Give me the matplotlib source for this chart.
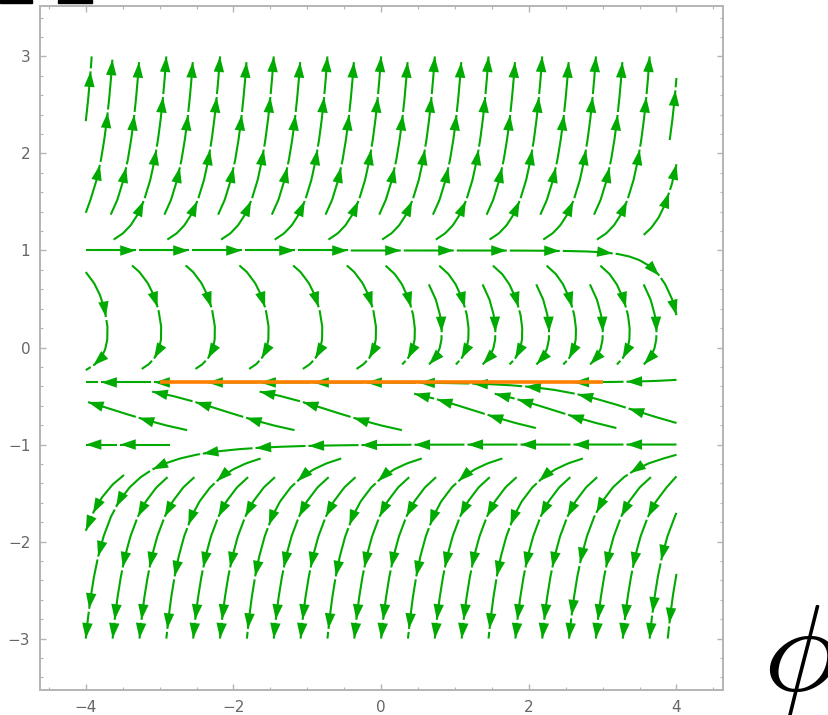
import numpy as np
import matplotlib
matplotlib.use("Agg")
import matplotlib.pyplot as plt
from matplotlib.patches import Rectangle, FancyArrowPatch
from matplotlib.ticker import MultipleLocator

plt.rcParams["mathtext.fontset"] = "cm"

# --------------------------
# Field parameters
# --------------------------
# horizontal invariant lines of the flow (dy/dt = 0)
y_fixed = [1.0, -0.36, -1.0]
# dx/dt changes sign at this height, grows linearly with y
x_null = 0.15
x_gain = 0.86
# plotted region of the streams
x_span = [-4.0, 4.0]
y_span = [-3.0, 3.0]
# highlighted trajectory (orange)
orange_x = [-3.0, 3.0]
orange_y = [-0.36, -0.36]

x_ticks = [-4, -2, 0, 2, 4]
y_ticks = [-3, -2, -1, 0, 1, 2, 3]

green = "#00aa00"
orange = "#ff8000"
frame_gray = "#b4b4b4"
label_gray = "#666666"

# stream pieces (pixels): each piece ends in an arrowhead, small gap after it
piece_len = 50
piece_gap = 3

# --------------------------
# Grid + vector field
# --------------------------
xs = np.linspace(x_span[0], x_span[1], 161)
ys = np.linspace(y_span[0], y_span[1], 301)
X, Y = np.meshgrid(xs, ys)
U = x_gain * (Y - x_null)
V = (Y - y_fixed[0]) * (Y - y_fixed[1]) * (Y - y_fixed[2])

# --------------------------
# Figure
# --------------------------
fig = plt.figure(figsize=(8.29, 7.15), dpi=100)
ax = fig.add_axes([40 / 829, 1 - 690 / 715, 683 / 829, 684 / 715])
ax.set_xlim(-4.62, 4.63)
ax.set_ylim(-3.53, 3.52)

res = ax.streamplot(X, Y, U, V, density=(0.78, 0.95), color=green, linewidth=1.5,
                    arrowstyle="-", zorder=2)
lines = res.lines.get_segments()
res.lines.remove()
for p in list(ax.patches):
    p.remove()

# redraw every streamline Mathematica-style: short pieces with heads
to_pix = ax.transData
to_data = ax.transData.inverted()
for seg in lines:
    if len(seg) < 2:
        continue
    pix = to_pix.transform(seg)
    s = np.concatenate([[0], np.cumsum(np.hypot(*np.diff(pix, axis=0).T))])
    total = s[-1]
    start = 0.0
    while start < total - 4:
        end = min(start + piece_len, total)
        grid = np.linspace(start, end, max(int((end - start) / 2), 2))
        px = np.interp(grid, s, pix[:, 0])
        py = np.interp(grid, s, pix[:, 1])
        pts = to_data.transform(np.column_stack([px, py]))
        ax.plot(pts[:, 0], pts[:, 1], color=green, linewidth=1.5, zorder=2,
                solid_capstyle="butt")
        if end - start > 14:
            tail = to_data.transform([[np.interp(end - 6, s, pix[:, 0]),
                                       np.interp(end - 6, s, pix[:, 1])]])[0]
            ax.add_patch(FancyArrowPatch(tail, pts[-1], arrowstyle="-|>,head_length=0.8,head_width=0.27",
                                         mutation_scale=14, color=green, linewidth=0,
                                         shrinkA=0, shrinkB=0, zorder=2))
        start = end + piece_gap

ax.plot(orange_x, orange_y, color=orange, linewidth=2.6, solid_capstyle="butt", zorder=3)

ax.xaxis.set_minor_locator(MultipleLocator(0.5))
ax.yaxis.set_minor_locator(MultipleLocator(0.2))
ax.set_xticks(x_ticks)
ax.set_yticks(y_ticks)
ax.set_xticklabels([str(t).replace("-", "\u2212") for t in x_ticks])
ax.set_yticklabels([str(t).replace("-", "\u2212") for t in y_ticks])

ax.tick_params(which="both", direction="in", top=True, right=True,
               color=frame_gray, labelcolor=label_gray, labelsize=11)
ax.tick_params(which="major", length=4.5, width=1.0, pad=7)
ax.tick_params(which="minor", length=2.5, width=0.8)
for sp in ax.spines.values():
    sp.set_color(frame_gray)
    sp.set_linewidth(1.4)

# cropped remains of labels at the top edge
fig.patches.append(Rectangle((0, 712 / 715), 32 / 829, 3 / 715, transform=fig.transFigure,
                             color="black", figure=fig))
fig.patches.append(Rectangle((58 / 829, 712 / 715), 34 / 829, 3 / 715, transform=fig.transFigure,
                             color="black", figure=fig))

fig.text(800 / 829, 1 - 657 / 715, r"$\phi$", fontsize=90, ha="center", va="center",
         color="black")

fig.savefig("out.png", dpi=100)
